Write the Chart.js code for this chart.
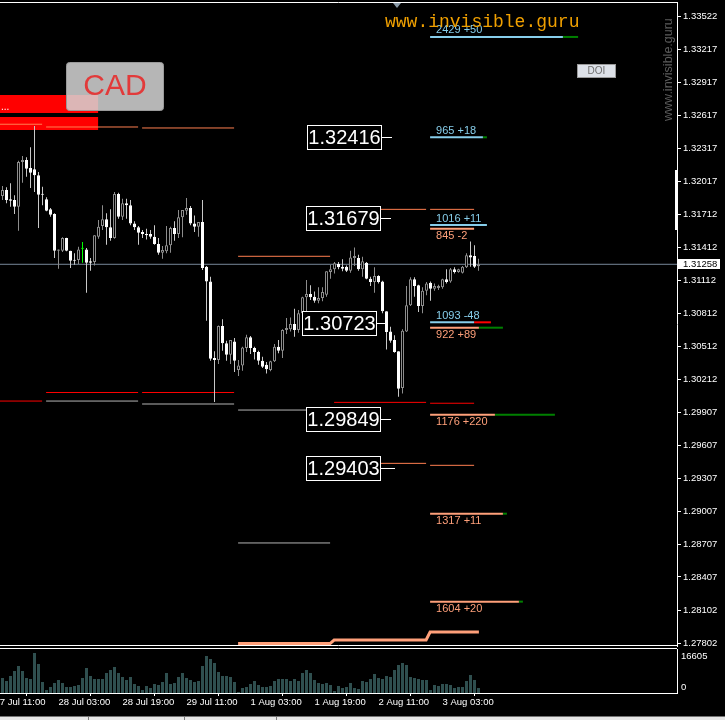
<!DOCTYPE html>
<html>
<head>
<meta charset="utf-8">
<title>USDCAD H1</title>
<script src="https://cdn.jsdelivr.net/npm/chart.js@4.4.0/dist/chart.umd.min.js"></script>
<style>
    html, body { margin: 0; padding: 0; background: #000; overflow: hidden; }
    #wrap { position: relative; width: 725px; height: 720px; }
    #priceChart { position: absolute; left: 0; top: 0; }
    #volumeChart { position: absolute; left: 0; top: 648px; }
</style>
</head>
<body>
<div id="wrap">
    <canvas id="priceChart" width="725" height="648"></canvas>
    <canvas id="volumeChart" width="725" height="72"></canvas>
</div>
<script>
// ---- data (H1 bars, index 0 = 27 Jul 13:00) ----
const candleOpen = [
    1.31880, 1.31935, 1.31850, 1.31844, 1.31783, 1.32190, 1.32209, 1.32136, 1.32124, 1.32069,
    1.31899, 1.31850, 1.31759, 1.31716, 1.31382, 1.31382, 1.31497, 1.31382, 1.31297, 1.31297,
    1.31400, 1.31394, 1.31285, 1.31279, 1.31509, 1.31607, 1.31668, 1.31595, 1.31497, 1.31899,
    1.31692, 1.31814, 1.31796, 1.31631, 1.31595, 1.31552, 1.31534, 1.31534, 1.31509, 1.31443,
    1.31363, 1.31376, 1.31431, 1.31589, 1.31534, 1.31686, 1.31746, 1.31771, 1.31631, 1.31600,
    1.31643, 1.31236, 1.31102, 1.30403, 1.30385, 1.30695, 1.30537, 1.30433, 1.30555, 1.30294,
    1.30336, 1.30494, 1.30592, 1.30494, 1.30458, 1.30378, 1.30342, 1.30294, 1.30373, 1.30506,
    1.30469, 1.30658, 1.30665, 1.30713, 1.30658, 1.30811, 1.30957, 1.30987, 1.30962, 1.30926,
    1.30950, 1.30980, 1.31187, 1.31212, 1.31260, 1.31236, 1.31236, 1.31199, 1.31315, 1.31315,
    1.31212, 1.31272, 1.31126, 1.31096, 1.31151, 1.31102, 1.30829, 1.30646, 1.30567, 1.30464,
    1.30129, 1.30646, 1.30884, 1.31121, 1.31066, 1.30877, 1.31017, 1.31090, 1.31035, 1.31041,
    1.31048, 1.31121, 1.31102, 1.31212, 1.31187, 1.31181, 1.31230, 1.31340, 1.31333, 1.31240,
];
const candleHigh = [
    1.31972, 1.31960, 1.31996, 1.31887, 1.32202, 1.32245, 1.32233, 1.32325, 1.32519, 1.32099,
    1.31965, 1.31869, 1.31771, 1.31723, 1.31394, 1.31504, 1.31500, 1.31382, 1.31358, 1.31418,
    1.31461, 1.31406, 1.31315, 1.31522, 1.31661, 1.31796, 1.31723, 1.31759, 1.31917, 1.31911,
    1.31856, 1.31856, 1.31844, 1.31650, 1.31607, 1.31570, 1.31582, 1.31570, 1.31613, 1.31497,
    1.31424, 1.31607, 1.31600, 1.31650, 1.31753, 1.31753, 1.31862, 1.31789, 1.31704, 1.31643,
    1.31844, 1.31242, 1.31144, 1.30464, 1.30701, 1.30756, 1.30561, 1.30567, 1.30585, 1.30385,
    1.30506, 1.30615, 1.30604, 1.30506, 1.30469, 1.30415, 1.30367, 1.30378, 1.30531, 1.30567,
    1.30665, 1.30768, 1.30774, 1.30853, 1.30841, 1.30962, 1.31114, 1.31066, 1.31011, 1.31048,
    1.31048, 1.31194, 1.31254, 1.31279, 1.31279, 1.31303, 1.31248, 1.31382, 1.31412, 1.31345,
    1.31327, 1.31279, 1.31144, 1.31230, 1.31157, 1.31108, 1.30829, 1.30688, 1.30610, 1.30464,
    1.30665, 1.31060, 1.31139, 1.31139, 1.31072, 1.31048, 1.31096, 1.31102, 1.31084, 1.31072,
    1.31126, 1.31212, 1.31224, 1.31230, 1.31217, 1.31242, 1.31358, 1.31467, 1.31431, 1.31309,
];
const candleLow = [
    1.31844, 1.31814, 1.31783, 1.31716, 1.31564, 1.32002, 1.32056, 1.31953, 1.31917, 1.31589,
    1.31796, 1.31741, 1.31692, 1.31315, 1.31217, 1.31370, 1.31378, 1.31224, 1.31254, 1.31260,
    1.31272, 1.30998, 1.31199, 1.31248, 1.31491, 1.31570, 1.31436, 1.31473, 1.31491, 1.31673,
    1.31661, 1.31673, 1.31613, 1.31570, 1.31436, 1.31497, 1.31485, 1.31491, 1.31436, 1.31345,
    1.31309, 1.31358, 1.31363, 1.31473, 1.31497, 1.31504, 1.31710, 1.31613, 1.31552, 1.31509,
    1.31205, 1.30743, 1.30378, 1.30002, 1.30348, 1.30469, 1.30378, 1.30348, 1.30275, 1.30239,
    1.30287, 1.30458, 1.30439, 1.30391, 1.30342, 1.30312, 1.30263, 1.30282, 1.30367, 1.30446,
    1.30403, 1.30622, 1.30646, 1.30597, 1.30634, 1.30792, 1.30798, 1.30932, 1.30907, 1.30902,
    1.30920, 1.30962, 1.31126, 1.31175, 1.31212, 1.31194, 1.31187, 1.31181, 1.31242, 1.31199,
    1.31144, 1.31121, 1.31060, 1.30998, 1.31084, 1.30811, 1.30482, 1.30542, 1.30451, 1.30050,
    1.30081, 1.30640, 1.30877, 1.30962, 1.30823, 1.30811, 1.30975, 1.30926, 1.31017, 1.31023,
    1.31035, 1.31084, 1.31090, 1.31175, 1.31181, 1.31175, 1.31224, 1.31236, 1.31224, 1.31199,
];
const candleClose = [
    1.31935, 1.31844, 1.31838, 1.31783, 1.32190, 1.32209, 1.32129, 1.32093, 1.32069, 1.31892,
    1.31892, 1.31746, 1.31710, 1.31382, 1.31394, 1.31497, 1.31382, 1.31290, 1.31290, 1.31394,
    1.31400, 1.31272, 1.31272, 1.31522, 1.31600, 1.31668, 1.31595, 1.31497, 1.31899, 1.31692,
    1.31814, 1.31796, 1.31631, 1.31595, 1.31546, 1.31534, 1.31522, 1.31509, 1.31443, 1.31363,
    1.31388, 1.31431, 1.31589, 1.31534, 1.31686, 1.31753, 1.31771, 1.31631, 1.31600, 1.31643,
    1.31224, 1.31102, 1.30397, 1.30385, 1.30695, 1.30537, 1.30433, 1.30567, 1.30378, 1.30336,
    1.30500, 1.30592, 1.30494, 1.30458, 1.30378, 1.30324, 1.30300, 1.30373, 1.30506, 1.30469,
    1.30658, 1.30677, 1.30713, 1.30658, 1.30811, 1.30957, 1.30987, 1.30957, 1.30926, 1.30950,
    1.31005, 1.31194, 1.31212, 1.31267, 1.31230, 1.31217, 1.31199, 1.31321, 1.31333, 1.31212,
    1.31285, 1.31126, 1.31096, 1.31151, 1.31096, 1.30829, 1.30640, 1.30561, 1.30458, 1.30123,
    1.30652, 1.30884, 1.31121, 1.31060, 1.30877, 1.31017, 1.31084, 1.31035, 1.31060, 1.31060,
    1.31121, 1.31096, 1.31212, 1.31187, 1.31212, 1.31236, 1.31340, 1.31321, 1.31236, 1.31258,
];
const markerBars = [20];

const volumes = [
    6000, 4800, 6800, 8800, 10800, 8800, 6000, 5600, 16000, 11600,
    4400, 1200, 2400, 4000, 5200, 4000, 2400, 2400, 2800, 3200,
    6000, 10000, 6800, 5600, 5600, 5600, 8000, 9200, 10400, 8000,
    6400, 5200, 6400, 3600, 2800, 1200, 2800, 2000, 3600, 3200,
    4400, 8000, 3600, 4000, 6400, 8000, 6000, 5200, 4400, 4800,
    10800, 14800, 13600, 12000, 8400, 6800, 6800, 6400, 4400, 400,
    2000, 2400, 3600, 4800, 3200, 2400, 2400, 2800, 4800, 5600,
    5600, 5600, 4800, 5600, 4800, 8000, 9200, 8000, 5200, 4000,
    3600, 4000, 3200, 800, 2800, 2000, 2400, 4000, 2000, 1600,
    4800, 4400, 5600, 7600, 6000, 5600, 6800, 6400, 9200, 11200,
    12000, 11200, 6400, 6000, 5600, 5200, 5200, 1200, 3200, 2800,
    3600, 3600, 3200, 2000, 2400, 2400, 4800, 7200, 5200, 2000,
];
const volumeMaxLabel = 16605;

const priceTicks = [
    1.33522, 1.33217, 1.32917, 1.32617, 1.32317, 1.32017, 1.31712, 1.31412, 1.31112, 1.30812,
    1.30512, 1.30212, 1.29907, 1.29607, 1.29307, 1.29007, 1.28707, 1.28407, 1.28102, 1.27802,
];
const timeTickBars = [-2, 14, 30, 46, 62, 78, 94, 110];
const timeTickLabels = [
    "27 Jul 11:00", "28 Jul 03:00", "28 Jul 19:00", "29 Jul 11:00",
    "1 Aug 03:00", "1 Aug 19:00", "2 Aug 11:00", "3 Aug 03:00",
];
const lastPrice = 1.31258;

// daily level segments (bar from / to)
const levelPrices = [1.32535, 1.32510, 1.32501, 1.31331, 1.31759, 1.31759, 1.30089, 1.30089, 1.30011, 1.30011, 1.29984, 1.29929, 1.29999, 1.29991, 1.29443, 1.29425, 1.28717];
const levelFrom   = [-1, 10.9, 34.9, 58.9, 82.9, 106.9, 10.9, 34.9, -1, 10.9, 34.9, 58.9, 82.9, 106.9, 82.9, 106.9, 58.9];
const levelTo     = [9.9, 33.9, 57.9, 81.9, 105.9, 117.9, 33.9, 57.9, 9.9, 33.9, 57.9, 81.9, 105.9, 117.9, 105.9, 117.9, 81.9];
const levelKinds  = ["res", "res", "res", "res", "res", "res", "sup", "sup", "sup", "low", "low", "low", "sup", "sup", "res", "res", "low"];

// thick step line at the bottom
const stepBars   = [58.9, 81.9, 82.9, 105.9, 106.9, 119.1];
const stepPrices = [1.27800, 1.27800, 1.27832, 1.27832, 1.27905, 1.27905];

// order clusters of today
const clusterStart  = 106.9;
const clusterPrices = [1.33331, 1.32416, 1.31616, 1.31583, 1.30729, 1.30680, 1.29887, 1.28984, 1.28182];
const clusterTexts  = ["2429 +50", "965 +18", "1016 +11", "845 -2", "1093 -48", "922 +89", "1176 +220", "1317 +11", "1604 +20"];
const clusterSides  = ["buy", "buy", "buy", "sell", "buy", "sell", "sell", "sell", "sell"];
const clusterEnd    = [140.1, 120.1, 121.1, 117.9, 117.9, 119.1, 123.1, 125.1, 129.1];
const clusterExt    = [143.9, 121.1, 121.1, 117.9, 122.1, 125.1, 138.1, 126.1, 130.1];

// price labels (boxes)
const boxPrices   = [1.32416, 1.31679, 1.30723, 1.29849, 1.29403];
const boxRightBar = [94.9, 94.6, 93.6, 94.6, 94.6];
const boxLineBar  = [97.4, 97.1, 96.1, 97.1, 98.1];

// rectangles top left
const zoneTops    = [1.32802, 1.32601];
const zoneBottoms = [1.32638, 1.32483];
const zoneFrom    = [-1, -1];
const zoneTo      = [23.9, 23.9];

const CONFIG = {
    xMin: -0.625,
    xMax: 168.625,
    yMin: 1.277775,
    yMax: 1.336497,
    volMax: 17600,
    font: "'Liberation Sans', Arial, sans-serif",
    charts: {},
};

const COLORS = {
    bullBody: "#000000",
    bullLine: "#8c8c8c",
    bearBody: "#ffffff",
    bearLine: "#c8c8c8",
    marker: "#00ff00",
    priceLine: "#778899",
    res: "#ff7f50",
    sup: "#ff0000",
    low: "#b4b4b4",
    buy: "#87ceeb",
    sell: "#ffa07a",
    up: "#008000",
    down: "#ff0000",
    zone: "#ff0000",
    volume: "#2f4f4f",
    axis: "#ffffff",
};

Chart.defaults.font.family = CONFIG.font;
Chart.defaults.font.size = 9.5;
Chart.defaults.color = COLORS.axis;

function isBull(i) {
    return candleClose[i] >= candleOpen[i];
}

function segment(x1, x2, y1, y2, color, width, order) {
    return {
        type: "line",
        data: [{ x: x1, y: y1 }, { x: x2, y: y2 }],
        borderColor: color,
        borderWidth: width,
        pointRadius: 0,
        tension: 0,
        fill: false,
        borderCapStyle: "butt",
        order: order,
    };
}

function buildPriceDatasets() {
    const idx = candleOpen.map((v, i) => i);
    const datasets = [];

    datasets.push(segment(CONFIG.xMin, CONFIG.xMax, lastPrice, lastPrice, COLORS.priceLine, 1, 9));

    levelPrices.forEach((p, k) => {
        datasets.push(segment(levelFrom[k], levelTo[k], p, p, COLORS[levelKinds[k]], 1, 8));
    });

    clusterPrices.forEach((p, k) => {
        const color = clusterSides[k] === "buy" ? COLORS.buy : COLORS.sell;
        datasets.push(segment(clusterStart, clusterEnd[k], p, p, color, 2, 7));
        if (clusterExt[k] > clusterEnd[k]) {
            const extColor = clusterTexts[k].includes("+") ? COLORS.up : COLORS.down;
            datasets.push(segment(clusterEnd[k], clusterExt[k], p, p, extColor, 2, 7));
        }
    });

    datasets.push({
        type: "line",
        data: stepBars.map((b, k) => ({ x: b, y: stepPrices[k] })),
        borderColor: COLORS.sell,
        borderWidth: 3,
        pointRadius: 0,
        tension: 0,
        fill: false,
        order: 7,
    });

    datasets.push({
        type: "bar",
        data: idx.map((i) => ({ x: i, y: [candleLow[i], candleHigh[i]] })),
        backgroundColor: idx.map((i) =>
            markerBars.includes(i) ? COLORS.marker : isBull(i) ? COLORS.bullLine : COLORS.bearLine,
        ),
        borderWidth: 0,
        grouped: false,
        barPercentage: 1,
        categoryPercentage: 1,
        maxBarThickness: 1,
        inflateAmount: 0,
        order: 3,
    });

    datasets.push({
        type: "bar",
        data: idx.map((i) => ({ x: i, y: [candleOpen[i], candleClose[i]] })),
        backgroundColor: idx.map((i) =>
            markerBars.includes(i) ? COLORS.marker : isBull(i) ? COLORS.bullBody : COLORS.bearBody,
        ),
        borderColor: idx.map((i) =>
            markerBars.includes(i) ? COLORS.marker : isBull(i) ? COLORS.bullLine : COLORS.bearBody,
        ),
        borderWidth: 1,
        borderSkipped: false,
        minBarLength: 1,
        grouped: false,
        barPercentage: 1,
        categoryPercentage: 1,
        maxBarThickness: 3,
        inflateAmount: 0,
        order: 2,
    });

    return datasets;
}

const priceOverlay = {
    id: "priceOverlay",
    beforeDatasetsDraw(chart) {
        const { ctx, chartArea, scales } = chart;
        const x = scales.x;
        const y = scales.y;
        ctx.save();
        ctx.beginPath();
        ctx.rect(chartArea.left, chartArea.top, chartArea.right - chartArea.left, chartArea.bottom - chartArea.top);
        ctx.clip();
        ctx.fillStyle = COLORS.zone;
        zoneTops.forEach((top, k) => {
            const x1 = x.getPixelForValue(zoneFrom[k]);
            const x2 = x.getPixelForValue(zoneTo[k]);
            const y1 = Math.round(y.getPixelForValue(top));
            const y2 = Math.round(y.getPixelForValue(zoneBottoms[k]));
            ctx.fillRect(x1, y1, x2 - x1, y2 - y1);
        });
        ctx.fillStyle = "#ffffff";
        ctx.font = "10px " + CONFIG.font;
        ctx.textBaseline = "alphabetic";
        ctx.fillText("...", 1, 110);
        ctx.restore();
    },
    afterDraw(chart) {
        const { ctx, chartArea, scales } = chart;
        const x = scales.x;
        const y = scales.y;
        ctx.save();

        // frame
        ctx.strokeStyle = COLORS.axis;
        ctx.lineWidth = 1;
        ctx.beginPath();
        ctx.moveTo(0, chartArea.top + 0.5);
        ctx.lineTo(chartArea.right, chartArea.top + 0.5);
        ctx.moveTo(0, chartArea.bottom - 0.5);
        ctx.lineTo(chartArea.right, chartArea.bottom - 0.5);
        ctx.stroke();

        // small marker at the top
        ctx.fillStyle = "#8a9aa8";
        ctx.beginPath();
        ctx.moveTo(393, 3);
        ctx.lineTo(401, 3);
        ctx.lineTo(397, 8);
        ctx.closePath();
        ctx.fill();

        // cluster labels
        ctx.font = "11px " + CONFIG.font;
        ctx.textAlign = "left";
        ctx.textBaseline = "middle";
        const tx = x.getPixelForValue(clusterStart) + 6;
        clusterPrices.forEach((p, k) => {
            const py = y.getPixelForValue(p);
            const buy = clusterSides[k] === "buy";
            ctx.fillStyle = buy ? COLORS.buy : COLORS.sell;
            ctx.fillText(clusterTexts[k], tx, buy ? py - 6.5 : py + 7.5);
        });

        // price boxes
        ctx.font = "20px " + CONFIG.font;
        ctx.textAlign = "center";
        boxPrices.forEach((p, k) => {
            const py = Math.round(y.getPixelForValue(p));
            const right = Math.round(x.getPixelForValue(boxRightBar[k]));
            const lineEnd = Math.round(x.getPixelForValue(boxLineBar[k]));
            const w = 75;
            const left = right - w;
            const top = py - 12;
            ctx.fillStyle = "#000000";
            ctx.fillRect(left, top, w, 25);
            ctx.strokeStyle = "#ffffff";
            ctx.strokeRect(left + 0.5, top + 0.5, w - 1, 24);
            ctx.beginPath();
            ctx.moveTo(right, py + 0.5);
            ctx.lineTo(lineEnd, py + 0.5);
            ctx.stroke();
            ctx.fillStyle = "#ffffff";
            ctx.fillText(p.toFixed(5), left + w / 2, top + 13);
        });

        // CAD badge
        ctx.fillStyle = "rgba(214, 214, 214, 0.85)";
        ctx.strokeStyle = "#9a9a9a";
        ctx.beginPath();
        ctx.roundRect(66.5, 62.5, 97, 48, 3);
        ctx.fill();
        ctx.stroke();
        ctx.fillStyle = "#e23a3a";
        ctx.font = "30px " + CONFIG.font;
        ctx.textAlign = "center";
        ctx.fillText("CAD", 115, 87);

        // watermarks
        ctx.fillStyle = "#f0a000";
        ctx.font = "18px 'Liberation Mono', 'Courier New', monospace";
        ctx.textAlign = "left";
        ctx.textBaseline = "alphabetic";
        ctx.fillText("www.invisible.guru", 385, 27);

        ctx.save();
        ctx.translate(669, 121);
        ctx.rotate(-Math.PI / 2);
        ctx.fillStyle = "#5c5c5c";
        ctx.font = "12.5px " + CONFIG.font;
        ctx.textBaseline = "middle";
        ctx.fillText("www.invisible.guru", 0, 0);
        ctx.restore();

        // DOI button
        ctx.fillStyle = "#dde1e8";
        ctx.fillRect(577, 64, 39, 14);
        ctx.strokeStyle = "#9a9a9a";
        ctx.strokeRect(577.5, 64.5, 38, 13);
        ctx.fillStyle = "#6e6e6e";
        ctx.font = "10px " + CONFIG.font;
        ctx.textAlign = "center";
        ctx.textBaseline = "middle";
        ctx.fillText("DOI", 596.5, 71.5);

        // scroll marker on the axis
        ctx.fillStyle = "#ffffff";
        ctx.fillRect(675, 170, 3, 60);

        // current price tag
        const cy = Math.round(y.getPixelForValue(lastPrice));
        ctx.fillStyle = "#ffffff";
        ctx.fillRect(678, cy - 5, 42, 10);
        ctx.fillStyle = "#000000";
        ctx.font = "9.5px " + CONFIG.font;
        ctx.textAlign = "left";
        ctx.fillText(lastPrice.toFixed(5), 683, cy);

        ctx.restore();
    },
};

const volumeOverlay = {
    id: "volumeOverlay",
    afterDraw(chart) {
        const { ctx, chartArea } = chart;
        ctx.save();
        ctx.strokeStyle = COLORS.axis;
        ctx.lineWidth = 1;
        ctx.beginPath();
        ctx.moveTo(0, chartArea.top - 0.5);
        ctx.lineTo(chartArea.right, chartArea.top - 0.5);
        ctx.stroke();

        ctx.fillStyle = COLORS.axis;
        ctx.font = "9.5px " + CONFIG.font;
        ctx.textAlign = "left";
        ctx.textBaseline = "middle";
        ctx.fillText(String(volumeMaxLabel), 681, 8);
        ctx.fillText("0", 681, 39);

        // tab bar strip at the very bottom
        ctx.fillStyle = "#e6e6e6";
        ctx.fillRect(0, 68.5, 725, 3.5);
        ctx.fillStyle = "#7a7a7a";
        [88, 184, 276].forEach((sx) => ctx.fillRect(sx, 69, 1, 3));
        ctx.restore();
    },
};

function createPriceChart() {
    const ctx = document.getElementById("priceChart");

    CONFIG.charts.price = new Chart(ctx, {
        type: "bar",
        data: { datasets: buildPriceDatasets() },
        options: {
            responsive: false,
            animation: false,
            devicePixelRatio: 1,
            events: [],
            layout: { padding: { top: 2, bottom: 2, left: 0, right: 0 } },
            plugins: {
                legend: { display: false },
                tooltip: { enabled: false },
            },
            scales: {
                x: {
                    type: "linear",
                    display: false,
                    min: CONFIG.xMin,
                    max: CONFIG.xMax,
                    offset: false,
                },
                y: {
                    type: "linear",
                    position: "right",
                    min: CONFIG.yMin,
                    max: CONFIG.yMax,
                    afterBuildTicks: (scale) => {
                        scale.ticks = priceTicks.map((v) => ({ value: v }));
                    },
                    afterFit: (scale) => {
                        scale.width = 48;
                        scale.paddingTop = 0;
                        scale.paddingBottom = 0;
                    },
                    ticks: {
                        autoSkip: false,
                        padding: 2,
                        color: COLORS.axis,
                        callback: (value) => Number(value).toFixed(5),
                    },
                    grid: {
                        drawOnChartArea: false,
                        drawTicks: true,
                        tickLength: 4,
                        color: COLORS.axis,
                    },
                    border: { display: true, color: COLORS.axis, width: 1 },
                },
            },
        },
        plugins: [priceOverlay],
    });
}

function createVolumeChart() {
    const ctx = document.getElementById("volumeChart");

    CONFIG.charts.volume = new Chart(ctx, {
        type: "bar",
        data: {
            datasets: [
                {
                    data: volumes.map((v, i) => ({ x: i, y: v })),
                    backgroundColor: COLORS.volume,
                    borderWidth: 0,
                    grouped: false,
                    barPercentage: 1,
                    categoryPercentage: 1,
                    maxBarThickness: 3,
                    inflateAmount: 0,
                },
            ],
        },
        options: {
            responsive: false,
            animation: false,
            devicePixelRatio: 1,
            events: [],
            layout: { padding: { top: 1, bottom: 0, left: 0, right: 0 } },
            plugins: {
                legend: { display: false },
                tooltip: { enabled: false },
            },
            scales: {
                x: {
                    type: "linear",
                    min: CONFIG.xMin,
                    max: CONFIG.xMax,
                    offset: false,
                    afterBuildTicks: (scale) => {
                        scale.ticks = timeTickBars.map((v) => ({ value: v }));
                    },
                    afterFit: (scale) => {
                        scale.height = 27;
                        scale.paddingLeft = 0;
                        scale.paddingRight = 0;
                    },
                    ticks: {
                        autoSkip: false,
                        maxRotation: 0,
                        align: "start",
                        padding: 1,
                        color: COLORS.axis,
                        callback: (value, index) => timeTickLabels[index],
                    },
                    grid: {
                        drawOnChartArea: false,
                        drawTicks: true,
                        tickLength: 3,
                        color: COLORS.axis,
                    },
                    border: { display: true, color: COLORS.axis, width: 1 },
                },
                y: {
                    type: "linear",
                    position: "right",
                    min: 0,
                    max: CONFIG.volMax,
                    afterFit: (scale) => {
                        scale.width = 48;
                        scale.paddingTop = 0;
                        scale.paddingBottom = 0;
                    },
                    ticks: { display: false },
                    grid: { display: false },
                    border: { display: true, color: COLORS.axis, width: 1 },
                },
            },
        },
        plugins: [volumeOverlay],
    });
}

createPriceChart();
createVolumeChart();
</script>
</body>
</html>
